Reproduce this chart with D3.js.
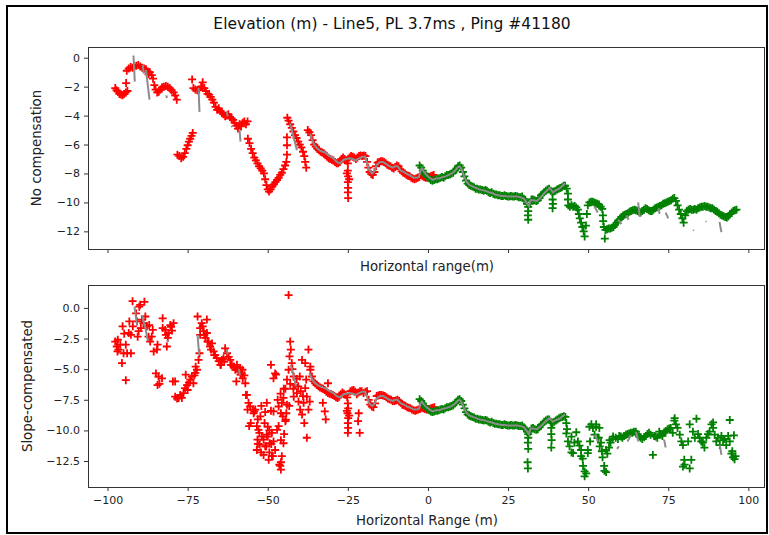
<!DOCTYPE html>
<html><head><meta charset="utf-8">
<script src="https://cdn.jsdelivr.net/npm/d3@7"></script>
<style>body{margin:0;background:#fff}svg{display:block}text{font-family:"DejaVu Sans",sans-serif}</style>
</head><body><div id="chart"></div>
<script>
const title = "Elevation (m) - Line5, PL 3.7ms , Ping #41180";
const xTicks = [-100,-75,-50,-25,0,25,50,75,100];
const topYTicks = [0,-2,-4,-6,-8,-10,-12];
const botYTicks = [0,-2.5,-5,-7.5,-10,-12.5];
const topYLabel = "No compensation", botYLabel = "Slope-compensated";
const topXLabel = "Horizontal range(m)", botXLabel = "Horizontal Range (m)";

// ---- Top panel (no compensation) ----
const topRed = [
[-97.6,-2.1],[-97.2,-2.25],[-96.8,-2.35],[-96.3,-2.5],[-95.8,-2.55],[-95.3,-2.6],[-94.8,-2.5],[-94.3,-2.4],[-93.8,-2.3],[-94.2,-1.75],
[-94.0,-0.9],[-93.4,-0.75],[-92.8,-0.65],[-92.2,-0.7],[-91.6,-0.6],[-91.0,-0.55],[-90.4,-0.5],[-89.8,-0.6],[-89.2,-0.7],[-88.6,-0.75],[-88.0,-0.8],[-87.4,-0.95],[-86.8,-1.0],[-87.2,-1.15],[-86.2,-1.2],[-85.8,-1.45],[-85.4,-1.9],[-85.0,-2.2],[-84.5,-2.4],[-84.0,-2.35],[-83.5,-2.2],[-83.0,-2.05],[-82.4,-2.0],[-81.8,-1.95],[-81.2,-2.0],[-80.6,-2.1],[-80.0,-2.25],[-79.4,-2.4],[-78.9,-2.6],[-78.4,-2.9],
[-78.2,-6.7],[-77.6,-6.8],[-77.0,-6.95],[-76.4,-6.85],[-75.9,-6.6],[-75.4,-6.3],[-75.0,-6.05],[-74.6,-5.8],[-74.2,-5.6],[-73.8,-5.4],[-73.4,-5.2],
[-73.6,-1.5],[-73.2,-2.1],[-72.6,-2.2],[-72.0,-2.25],[-71.4,-2.2],[-70.8,-2.0],[-70.3,-1.7],[-69.8,-2.1],[-69.3,-2.3],[-68.8,-2.5],[-68.3,-2.55],[-67.8,-2.7],[-67.3,-2.9],[-66.8,-3.1],[-66.3,-3.4],[-65.8,-3.6],[-65.3,-3.5],[-64.8,-3.7],[-64.3,-3.8],[-63.8,-3.9],[-63.3,-4.05],[-62.8,-4.0],[-62.3,-3.9],[-61.8,-4.1],[-61.3,-4.2],[-60.8,-4.3],[-60.3,-4.5],[-59.8,-4.7],[-59.3,-4.9],[-58.8,-4.6],[-58.3,-4.75],[-57.8,-4.5],[-57.3,-4.4],[-56.8,-4.6],[-56.3,-4.4],
[-56.2,-5.6],[-55.7,-5.9],[-55.2,-6.3],[-54.7,-6.6],[-54.2,-6.9],[-53.7,-7.1],[-53.2,-7.3],[-52.7,-7.5],[-52.2,-7.65],[-51.7,-7.8],[-51.2,-8.0],[-50.8,-8.4],[-50.4,-8.8],[-50.0,-9.1],[-49.6,-9.25],[-49.1,-9.1],[-48.6,-8.9],[-48.1,-8.75],[-47.6,-8.6],[-47.1,-8.45],[-46.6,-8.3],[-46.1,-8.1],[-45.6,-7.95],[-45.1,-7.7],[-44.6,-7.45],[-44.2,-7.2],
[-44.0,-5.5],[-44.0,-6.05],[-44.0,-6.7],
[-43.9,-4.15],[-43.5,-4.35],[-43.0,-4.6],[-42.5,-4.85],[-42.0,-5.1],[-41.5,-5.35],[-41.0,-5.55],[-40.5,-5.8],[-40.0,-6.0],[-39.5,-6.2],[-39.0,-6.5],[-38.6,-6.8],[-38.3,-7.2],[-38.0,-7.6],
[-37.5,-5.0],[-37.0,-5.15],[-36.5,-5.35],[-36.0,-5.7],[-35.5,-6.0],[-35.0,-6.15],[-34.5,-6.3],[-34.0,-6.4],[-33.5,-6.5],[-33.0,-6.55],[-32.5,-6.6],[-32.0,-6.7],[-31.5,-6.85],[-31.0,-6.95],[-30.5,-7.0],[-30.0,-7.05],[-29.5,-7.1],[-29.0,-7.2],[-28.5,-7.3],[-28.0,-7.3],[-27.5,-7.2],[-27.0,-7.0],[-26.5,-6.9],[-26.0,-7.0],[-25.5,-7.1],[-25.0,-7.3],
[-25.0,-7.8],[-24.9,-8.2],[-25.0,-8.6],[-24.9,-9.0],[-25.0,-9.3],[-24.9,-9.7],[-25.3,-8.0],[-24.6,-8.4],
[-24.5,-6.9],[-24.0,-6.8],[-23.5,-6.85],[-23.0,-6.9],[-22.5,-7.0],[-22.0,-6.9],[-21.5,-6.8],[-21.0,-6.75],[-20.5,-6.8],[-20.0,-6.75],[-19.5,-6.8],[-19.0,-7.2],[-18.6,-7.6],[-18.2,-7.9],[-17.7,-8.05],[-17.2,-8.1],[-16.7,-7.9],[-16.2,-7.5],[-15.7,-7.25],[-15.2,-7.2],[-14.7,-7.15],[-14.2,-7.15],[-13.7,-7.2],[-13.2,-7.3],[-12.7,-7.4],[-12.2,-7.45],[-11.7,-7.5],[-11.2,-7.6],[-10.7,-7.65],[-10.2,-7.55],[-9.7,-7.45],[-9.2,-7.5],[-8.7,-7.7],[-8.2,-7.85],[-7.7,-7.95],[-7.2,-8.0],[-6.7,-8.1],[-6.2,-8.15],[-5.7,-8.2],[-5.2,-8.3],[-4.7,-8.35],[-4.2,-8.4],[-3.7,-8.35],[-3.2,-8.3],[-2.7,-8.25],[-2.2,-8.1],[-1.7,-8.2],[-1.2,-8.25],[-0.7,-8.3],[-0.2,-8.3],[0.3,-8.25],[0.8,-8.2],[1.3,-8.15],[1.8,-8.1]
];
const topGreen = [
[-2.6,-7.45],[-2.1,-7.6],[-1.6,-7.8],[-1.1,-8.0],[-0.6,-8.15],[-0.1,-8.25],[0.4,-8.35],[0.9,-8.45],[1.4,-8.5],[1.9,-8.45],[2.4,-8.4],[2.9,-8.4],[3.4,-8.35],[3.9,-8.3],[4.4,-8.25],[4.9,-8.3],[5.4,-8.2],[5.9,-8.1],[6.4,-8.1],[6.9,-8.05],[7.4,-8.0],[7.9,-7.95],[8.4,-7.8],[8.9,-7.65],[9.4,-7.5],[9.9,-7.45],[10.4,-7.6],[10.9,-7.9],[11.4,-8.2],[11.9,-8.5],[12.4,-8.7],[12.9,-8.8],[13.4,-8.85],[13.9,-8.9],[14.4,-8.95],[14.9,-9.05],[15.4,-9.05],[15.9,-9.1],[16.4,-9.1],[16.9,-9.15],[17.4,-9.2],[17.9,-9.15],[18.4,-9.2],[18.9,-9.3],[19.4,-9.35],[19.9,-9.3],[20.4,-9.4],[20.9,-9.45],[21.4,-9.45],[21.9,-9.5],[22.4,-9.5],[22.9,-9.55],[23.4,-9.55],[23.9,-9.5],[24.4,-9.55],[24.9,-9.6],[25.4,-9.6],[25.9,-9.55],[26.4,-9.6],[26.9,-9.6],[27.4,-9.55],[27.9,-9.6],[28.4,-9.65],[28.9,-9.65],[29.4,-9.6],[29.9,-9.75],[30.4,-9.9],[30.9,-10.1],[31.3,-10.3],
[31.3,-10.6],[31.2,-10.9],[31.3,-11.2],
[31.8,-10.1],[32.3,-9.8],[32.8,-9.8],[33.3,-9.85],[33.8,-9.9],[34.3,-9.85],[34.8,-9.7],[35.3,-9.5],[35.8,-9.4],[36.3,-9.3],[36.8,-9.2],[37.3,-9.1],[37.8,-9.05],[38.3,-9.2],[38.8,-9.3],
[38.9,-9.8],[39.0,-10.1],[38.9,-10.4],
[39.3,-9.25],[39.8,-9.2],[40.3,-9.1],[40.8,-9.05],[41.3,-9.0],[41.8,-8.95],[42.3,-8.85],[42.8,-8.85],[43.3,-9.05],[43.7,-9.4],[43.7,-9.8],[43.8,-10.2],
[44.3,-10.3],[44.8,-10.2],[45.3,-10.3],[45.8,-10.25],[46.3,-10.35],[46.8,-10.5],[47.1,-10.8],[47.4,-11.1],[47.8,-11.4],[48.2,-11.7],[48.6,-12.0],[48.9,-12.35],[49.3,-11.6],[49.6,-10.8],[49.9,-10.2],[50.4,-10.0],[50.9,-9.95],[51.4,-9.95],[51.9,-10.0],[52.4,-10.05],[52.9,-10.1],[53.4,-10.15],[53.9,-10.3],[54.4,-10.45],[54.6,-10.9],[54.7,-11.3],[54.9,-11.7],[55.2,-12.5],[55.4,-11.9],[55.9,-11.85],[56.4,-11.8],[56.9,-11.8],[57.4,-11.75],[57.9,-11.7],[58.4,-11.55],[58.9,-11.4],[59.4,-11.25],[59.9,-11.15],[60.4,-11.0],[60.9,-10.9],[61.4,-10.85],[61.9,-10.8],[62.4,-10.75],[62.9,-10.65],[63.4,-10.6],[63.9,-10.55],[64.4,-10.5],[64.9,-10.55],[65.4,-10.6],[65.9,-10.65],[66.4,-10.7],[66.9,-10.6],[67.4,-10.5],[67.9,-10.4],[68.4,-10.45],[68.9,-10.55],[69.4,-10.6],[69.9,-10.6],[70.4,-10.5],[70.9,-10.4],[71.4,-10.35],[71.9,-10.3],[72.4,-10.25],[72.9,-10.2],[73.4,-10.1],[73.9,-10.05],[74.4,-10.0],[74.9,-9.95],[75.4,-9.9],[75.9,-9.85],[76.4,-9.75],[76.9,-9.7],[77.4,-9.9],[77.9,-10.2],[78.4,-10.5],[78.9,-10.8],[79.4,-11.1],[79.8,-11.4],[80.3,-10.9],[80.8,-10.6],[81.3,-10.5],[81.8,-10.45],[82.3,-10.5],[82.8,-10.5],[83.3,-10.45],[83.8,-10.5],[84.3,-10.4],[84.8,-10.35],[85.3,-10.3],[85.8,-10.3],[86.3,-10.25],[86.8,-10.3],[87.3,-10.3],[87.8,-10.35],[88.3,-10.4],[88.8,-10.4],[89.3,-10.5],[89.8,-10.6],[90.3,-10.65],[90.8,-10.75],[91.3,-10.85],[91.8,-10.9],[92.3,-10.95],[92.8,-11.0],[93.3,-11.05],[93.8,-10.95],[94.3,-10.8],[94.8,-10.7],[95.3,-10.6],[95.8,-10.55],[96.3,-10.5]
];
const topGray = [
[-91.9,0.15],[-91.5,-1.65],[null,null],
[-89.0,-0.5],[-88.7,-1.1],[null,null],
[-88.0,-0.85],[-86.9,-2.9],[null,null],
[-81.6,-2.6],[-81.5,-2.8],[null,null],
[-71.6,-2.1],[-71.3,-3.75],[null,null],
[-62.8,-3.75],[-62.5,-4.05],[null,null],
[-61.3,-4.7],[-61.1,-4.8],[null,null],
[-58.8,-5.0],[-58.5,-5.8],[null,null],
[-43.0,-4.55],[-40.9,-6.4],[null,null],
[-36.7,-5.25],[-36.2,-5.7],[-35.5,-6.0],[-34.7,-6.25],[-33.5,-6.45],[-32.1,-6.55],[-31,-6.75],[-29.5,-6.95],[-28.5,-7.2],[-27.4,-7.3],[-26.3,-7.05],[-25.5,-7.0],[-24.5,-6.95],[-23.5,-7.0],[-22.5,-7.1],[-21.5,-6.95],[-20.5,-6.85],[-19.6,-6.85],[-19,-7.3],[-18.3,-7.8],[-17.4,-8.0],[-16.6,-7.8],[-16,-7.4],[-15,-7.2],[-14,-7.2],[-13,-7.35],[-12,-7.5],[-11,-7.6],[-10.2,-7.5],[-9.5,-7.5],[-8.5,-7.8],[-7.5,-7.9],[-6.5,-8.05],[-5.5,-8.15],[-4.5,-8.3],[-3.5,-8.3],[-2.8,-8.25],[-2.3,-7.8],[-1.9,-7.65],[-1.2,-7.9],[-0.5,-8.1],[0.5,-8.3],[1.5,-8.45],[2.5,-8.35],[3.5,-8.35],[4.5,-8.25],[5.5,-8.2],[6.5,-8.1],[7.5,-8.0],[8.5,-7.8],[9.2,-7.6],[9.8,-7.5],[10.4,-7.65],[11.2,-8.15],[12,-8.55],[13,-8.8],[14,-8.9],[15,-9.0],[16,-9.1],[17,-9.15],[18,-9.2],[19,-9.3],[20,-9.35],[21,-9.45],[22,-9.5],[23,-9.55],[24,-9.55],[25,-9.6],[26,-9.6],[27,-9.6],[28,-9.6],[29,-9.65],[30,-9.75],[31,-10.1],[31.5,-10.25],[32,-9.85],[33,-9.85],[34,-9.9],[35,-9.7],[36,-9.45],[37,-9.2],[38,-9.0],[39,-9.3],[40,-9.15],[41,-9.05],[42,-8.85],[42.8,-8.7],[null,null],
[52.0,-10.3],[53.0,-10.7],[null,null],
[59.4,-11.2],[60.4,-11.5],[null,null],
[62.0,-10.9],[62.6,-11.2],[null,null],
[65.6,-10.0],[66.1,-11.0],[null,null],
[72.0,-10.4],[72.3,-10.8],[null,null],
[74.2,-10.7],[75.0,-11.1],[null,null],
[82.8,-11.9],[83.0,-11.95],[null,null],
[86.7,-11.3],[86.9,-11.35],[null,null],
[91.0,-11.35],[91.6,-12.05]
];

// ---- Bottom panel (slope-compensated) ----
const botRed = [
[-97.6,-2.75],[-97.1,-3.15],[-96.9,-3.55],[-96.6,-3.4],[-96.0,-3.0],[-96.8,-2.6],[-95.5,-4.5],[-95.0,-3.7],[-94.3,-3.0],[-93.9,-3.7],[-94.3,-5.9],[-94.8,-2.1],[-95.3,-1.5],[-93.4,-2.05],[-92.7,-2.2],[-92.7,-3.7],[-93.2,-1.1],[-92.2,0.55],[-92.1,-1.5],[-91.1,-0.45],[-90.8,-1.1],[-90.3,-1.9],[-90.1,0.1],[-89.8,0.25],[-88.5,0.5],[-89.3,-0.95],[-89.6,-1.65],[-90.6,-2.35],[-88.2,-0.7],[-88.8,-1.25],[-87.7,-1.5],[-87.0,-1.4],[-87.2,-2.35],[-86.7,-2.75],[-86.2,-2.35],[-85.9,-1.8],[-85.6,-3.55],[-84.6,-3.4],[-84.4,-3.0],[-84.9,-5.35],[-84.1,-5.6],[-84.4,-6.3],[-83.8,-6.2],[-83.0,-5.75],[-82.8,-0.85],[-82.8,-1.65],[-82.0,-1.8],[-81.8,-2.2],[-81.5,-3.15],[-81.2,-2.45],[-81.0,-2.05],[-80.4,-1.4],[-80.2,-1.55],[-79.9,-1.85],[-79.4,-1.25],[-79.6,-6.0],
[-78.9,-6.0],[-78.9,-7.25],[-78.3,-7.4],[-77.8,-7.35],[-77.3,-7.1],[-76.8,-7.35],[-76.3,-6.95],[-75.8,-6.55],[-75.6,-5.45],[-75.2,-6.3],[-75.0,-6.7],[-74.6,-6.1],[-74.2,-5.85],[-73.7,-5.6],[-73.2,-6.15],[-72.9,-5.5],[-72.6,-5.3],[-72.1,-5.05],[-72.5,-4.8],[-71.6,-4.25],[-71.3,-3.7],[-71.9,-0.7],[-70.6,-1.25],[-69.0,-0.95],[-71.1,-1.65],[-71.1,-2.2],[-70.0,-1.9],[-70.3,-1.5],[-69.8,-2.2],[-69.5,-2.45],[-69.0,-2.05],[-68.8,-2.75],[-68.5,-2.75],[-68.0,-3.15],[-67.7,-3.4],[-67.4,-2.9],[-66.9,-3.55],[-66.7,-3.85],[-66.4,-3.85],[-65.9,-4.1],[-65.3,-4.35],[-64.8,-4.65],[-64.6,-4.65],[-64.3,-4.25],[-63.8,-4.1],[-63.6,-4.4],[-63.3,-3.3],[-62.7,-3.7],[-62.2,-4.0],[-61.7,-4.25],[-61.5,-4.65],[-61.2,-4.65],[-60.7,-4.8],[-60.5,-4.8],[-60.1,-5.05],[-59.6,-4.65],[-59.1,-5.2],[-59.0,-5.05],[-58.6,-4.9],[-58.5,-5.45],[-58.1,-5.35],[-57.9,-5.05],[-57.8,-5.75],[-57.3,-5.5],[-57.0,-6.15],[-59.8,-6.0],[-56.8,-7.1],[-56.5,-7.1],
[-56.0,-7.75],[-56.3,-8.3],[-55.8,-9.65],[-55.5,-8.05],[-54.6,-8.3],[-54.2,-8.45],[-55.3,-9.4],[-54.4,-8.6],[-53.9,-8.3],[-53.4,-9.65],[-53.1,-9.1],[-52.9,-9.95],[-52.6,-10.2],[-52.3,-8.85],[-53.2,-10.75],[-53.1,-11.1],[-52.5,-11.15],[-52.1,-11.8],[-53.4,-11.6],[-51.8,-10.5],[-51.3,-10.75],[-50.8,-11.3],[-50.5,-11.3],[-51.3,-12.0],[-50.3,-10.35],[-50.0,-10.5],[-49.4,-11.05],[-49.5,-11.8],[-48.9,-11.1],[-48.7,-10.2],[-48.2,-10.9],[-48.4,-12.1],[-47.7,-11.6],[-48.7,-12.1],[-49.7,-12.4],[-48.2,-8.45],[-49.0,-8.4],[-47.1,-9.95],[-46.6,-9.65],[-46.4,-12.8],[-46.1,-12.9],[-45.9,-13.2],[-45.9,-12.6],[-45.6,-12.1],[-45.9,-10.8],[-45.1,-11.05],[-44.9,-10.3],[-44.5,-9.25],[-44.4,-9.13],[-45.3,-8.85],[-45.9,-8.6],[-44.2,-8.6],[-44.0,-7.9],[-43.3,-8.0],[-45.1,-7.35],[-45.6,-7.75],[-46.6,-8.05],[-46.9,-7.5],[-48.2,-5.75],[-47.4,-5.45],[-49.0,-4.65],[-47.7,-5.35],[-50.3,-7.75],[-50.8,-8.5],[-52.0,-8.0],[-49.5,-10.0],[-50.0,-9.7],[-51.0,-9.4],[-45.0,-6.6],[-46.0,-7.0],
[-44.0,-5.85],[-43.5,-5.05],[-43.0,-2.75],[-42.8,-3.4],[-43.2,-3.95],[-42.5,-4.5],[-41.9,-5.6],[-41.4,-6.3],[-41.9,-7.25],[-40.9,-6.95],[-40.4,-7.65],[-39.9,-8.3],[-39.3,-8.7],[-38.8,-7.75],[-38.6,-9.4],[-39.3,-4.25],[-38.3,-4.5],[-38.0,-5.85],[-37.8,-10.6],[-37.3,-3.4],[-36.7,-5.05],[-38.3,-6.55],[-37.8,-7.25],[-37.3,-8.3],[-36.9,-7.65],[-43.5,1.05],[-42.3,-5.0],[-41.0,-5.8],[-40.5,-6.4],[-39.7,-6.8],[-39.0,-7.2],[-40.0,-5.6],[-42.0,-6.6],[-43.0,-6.2],[-44.5,-6.6],
[-36.7,-4.8],[-36.2,-5.6],[-35.7,-6.0],[-35.2,-6.15],[-34.7,-6.3],[-34.2,-6.4],[-33.7,-6.5],[-33.2,-6.55],[-32.8,-7.75],[-32.2,-8.45],[-31.9,-9.1],[-31.2,-6.15],[-32.7,-6.6],[-32.2,-6.7],[-31.7,-6.85],[-31.2,-6.95],[-30.7,-7.0],[-30.2,-7.05],[-29.7,-7.1],[-29.2,-7.2],[-28.7,-7.3],[-28.2,-7.35],[-27.7,-7.25],[-27.2,-7.05],[-26.7,-6.9],[-26.2,-7.0],[-25.7,-7.1],[-25.2,-7.3],
[-25.0,-7.8],[-24.9,-8.2],[-25.1,-8.6],[-24.9,-9.0],[-25.0,-9.4],[-24.9,-9.8],[-25.0,-10.2],[-25.3,-8.4],[-24.6,-8.8],
[-24.2,-6.8],[-23.7,-6.75],[-23.2,-6.7],[-22.7,-6.85],[-22.2,-7.05],[-21.8,-9.25],[-21.3,-10.2],[-21.6,-8.6],[-21.7,-6.9],[-21.2,-6.8],[-20.7,-6.8],[-20.1,-6.95],[-19.5,-6.85],[-19.0,-6.8],[-18.5,-7.5],[-18.0,-7.9],[-17.5,-8.05],[-17.0,-8.1],[-16.5,-7.8],[-16.0,-7.2],[-15.5,-7.15],[-15.0,-7.1],[-14.5,-7.1],[-14.0,-7.15],[-13.5,-7.2],[-13.0,-7.3],[-12.5,-7.4],[-12.0,-7.45],[-11.5,-7.5],[-11.0,-7.6],[-10.5,-7.6],[-10.0,-7.55],[-9.5,-7.5],[-9.0,-7.6],[-8.5,-7.75],[-8.0,-7.9],[-7.5,-7.95],[-7.0,-8.0],[-6.5,-8.1],[-6.0,-8.15],[-5.5,-8.2],[-5.0,-8.3],[-4.5,-8.35],[-4.0,-8.4],[-3.5,-8.35],[-3.0,-8.3],[-2.5,-8.25],[-2.0,-8.15],[-1.5,-8.2],[-1.0,-8.25],[-0.5,-8.3],[0.0,-8.3],[0.5,-8.25],[1.0,-8.2],[1.5,-8.15],[2.0,-8.1]
];
const botGreen = [
[-2.6,-7.45],[-2.1,-7.6],[-1.6,-7.8],[-1.1,-8.0],[-0.6,-8.15],[-0.1,-8.25],[0.4,-8.35],[0.9,-8.45],[1.4,-8.5],[1.9,-8.45],[2.4,-8.4],[2.9,-8.4],[3.4,-8.35],[3.9,-8.3],[4.4,-8.25],[4.9,-8.3],[5.4,-8.2],[5.9,-8.1],[6.4,-8.1],[6.9,-8.05],[7.4,-8.0],[7.9,-7.95],[8.4,-7.8],[8.9,-7.65],[9.4,-7.5],[9.9,-7.45],[10.4,-7.6],[10.9,-7.9],[11.4,-8.2],[11.9,-8.5],[12.4,-8.7],[12.9,-8.8],[13.4,-8.85],[13.9,-8.9],[14.4,-8.95],[14.9,-9.05],[15.4,-9.05],[15.9,-9.1],[16.4,-9.1],[16.9,-9.15],[17.4,-9.2],[17.9,-9.15],[18.4,-9.2],[18.9,-9.3],[19.4,-9.35],[19.9,-9.3],[20.4,-9.4],[20.9,-9.45],[21.4,-9.45],[21.9,-9.5],[22.4,-9.5],[22.9,-9.55],[23.4,-9.55],[23.9,-9.5],[24.4,-9.55],[24.9,-9.6],[25.4,-9.6],[25.9,-9.55],[26.4,-9.6],[26.9,-9.6],[27.4,-9.55],[27.9,-9.6],[28.4,-9.65],[28.9,-9.65],[29.4,-9.6],[29.9,-9.75],[30.4,-9.9],[30.9,-10.1],
[31.3,-10.3],[31.3,-10.6],[31.2,-11.0],[31.3,-11.5],[31.1,-12.6],[31.2,-13.1],
[31.8,-10.1],[32.3,-9.85],[32.8,-9.8],[33.3,-9.9],[33.8,-9.95],[34.3,-9.9],[34.8,-9.75],[35.3,-9.55],[35.8,-9.45],[36.3,-9.3],[36.8,-9.2],[37.3,-9.1],[37.8,-9.1],[38.3,-9.3],[38.5,-9.8],[38.5,-10.3],[38.6,-10.8],[38.5,-11.4],[38.9,-9.4],[39.4,-9.3],[39.9,-9.2],[40.4,-9.1],[40.9,-9.0],[41.4,-8.95],[41.9,-8.9],[42.4,-8.85],[42.9,-8.9],[43.2,-9.4],[43.4,-9.9],[43.2,-10.25],[43.7,-10.9],[44.2,-11.3],[44.8,-11.8],[45.3,-11.85],[44.8,-10.5],[45.7,-11.0],[46.3,-10.15],[46.8,-10.9],[47.3,-11.25],[47.8,-11.6],[47.8,-12.1],[48.3,-12.3],[48.4,-12.9],[48.9,-13.35],[48.9,-13.75],[49.4,-13.5],[49.9,-11.6],[49.9,-11.85],[50.4,-9.7],[50.6,-10.9],[51.0,-9.5],[51.5,-9.8],[52.0,-10.35],[52.5,-9.5],[52.5,-9.7],[53.0,-10.6],[53.3,-10.6],[53.5,-9.8],[54.0,-11.0],[53.6,-11.3],[54.3,-11.7],[54.5,-12.2],[55.0,-12.9],[55.1,-13.3],[55.6,-13.4],[55.6,-11.6],[56.0,-11.9],[56.5,-11.4],[56.7,-10.8],[57.0,-11.0],[57.6,-10.7],[57.8,-10.5],[58.6,-10.6],[59.3,-10.7],[59.7,-10.45],[60.2,-10.5],[60.7,-10.6],[61.2,-10.45],[61.8,-10.35],[62.3,-10.3],[62.8,-10.25],[63.3,-10.2],[63.8,-10.2],[64.3,-10.1],[64.9,-10.1],[65.4,-10.3],[65.9,-10.5],[66.4,-10.6],[66.9,-10.7],[67.5,-10.55],[68.0,-10.45],[68.5,-10.3],[69.0,-10.2],[69.5,-10.35],[70.2,-12.0],[70.6,-10.45],[71.1,-10.5],[71.6,-10.6],[72.2,-10.1],[72.7,-10.3],[73.2,-10.45],[73.7,-10.2],[74.2,-10.05],[74.8,-9.9],[75.3,-9.85],[75.8,-9.8],[76.4,-10.2],[76.9,-9.2],[77.4,-9.5],[77.0,-9.0],[77.9,-9.8],[78.6,-10.35],[79.1,-10.9],[79.6,-11.2],[79.6,-12.95],[80.1,-12.8],[80.0,-12.4],[81.7,-13.1],[81.2,-10.9],[81.7,-9.5],[82.2,-12.4],[82.7,-10.1],[83.3,-10.6],[83.8,-9.05],[84.3,-10.3],[84.8,-10.6],[85.3,-10.9],[85.8,-11.0],[86.3,-11.4],[86.9,-10.6],[87.4,-10.3],[87.9,-10.1],[88.5,-9.5],[89.0,-9.8],[89.0,-9.35],[89.5,-10.35],[90.0,-10.9],[90.5,-10.6],[91.1,-11.2],[91.6,-10.45],[92.1,-10.8],[92.6,-10.7],[93.1,-11.2],[93.7,-10.45],[94.2,-10.9],[94.2,-9.15],[94.7,-11.9],[95.0,-11.7],[95.2,-12.2],[95.7,-12.35],[95.5,-10.4],[96.0,-12.1]
];
const botGray = [
[-91.6,0.1],[-90.8,-1.4],[null,null],
[-89.2,-0.6],[-88.8,-1.1],[-88.2,-1.6],[-87.4,-2.7],[null,null],
[-81.3,-2.6],[-81.1,-2.8],[null,null],
[-71.9,-2.2],[-71.4,-3.85],[null,null],
[-62.8,-3.4],[-62.5,-3.8],[null,null],
[-59.0,-5.0],[-58.7,-5.5],[null,null],
[-42.8,-4.65],[-41.2,-6.4],[null,null],
[-37.0,-5.3],[-36.2,-5.8],[-35.4,-6.1],[-34.4,-6.3],[-33.3,-6.45],[-32.1,-6.55],[-31,-6.75],[-29.5,-6.95],[-28.5,-7.2],[-27.4,-7.3],[-26.3,-7.05],[-25.5,-7.0],[-24.5,-6.95],[-23.5,-7.0],[-22.5,-7.1],[-21.5,-6.95],[-20.5,-6.85],[-19.6,-6.85],[-19,-7.3],[-18.3,-7.8],[-17.4,-8.0],[-16.6,-7.8],[-16,-7.4],[-15,-7.2],[-14,-7.2],[-13,-7.35],[-12,-7.5],[-11,-7.6],[-10.2,-7.5],[-9.5,-7.5],[-8.5,-7.8],[-7.5,-7.9],[-6.5,-8.05],[-5.5,-8.15],[-4.5,-8.3],[-3.5,-8.3],[-2.8,-8.25],[-2.3,-7.8],[-1.9,-7.65],[-1.2,-7.9],[-0.5,-8.1],[0.5,-8.3],[1.5,-8.45],[2.5,-8.35],[3.5,-8.35],[4.5,-8.25],[5.5,-8.2],[6.5,-8.1],[7.5,-8.0],[8.5,-7.8],[9.2,-7.6],[9.8,-7.5],[10.4,-7.65],[11.2,-8.15],[12,-8.55],[13,-8.8],[14,-8.9],[15,-9.0],[16,-9.1],[17,-9.15],[18,-9.2],[19,-9.3],[20,-9.35],[21,-9.45],[22,-9.5],[23,-9.55],[24,-9.55],[25,-9.6],[26,-9.6],[27,-9.6],[28,-9.6],[29,-9.65],[30,-9.75],[31,-10.1],[31.5,-10.3],[32,-9.85],[33,-9.85],[34,-9.9],[35,-9.7],[36,-9.45],[37,-9.2],[38,-9.0],[39,-9.3],[40,-9.15],[41,-9.05],[42,-8.85],[42.8,-8.7],[null,null],
[52.0,-10.35],[53.1,-10.9],[null,null],
[59.0,-11.5],[59.6,-11.3],[null,null],
[62.3,-10.9],[63.3,-10.4],[null,null],
[64.9,-10.1],[65.7,-10.9],[null,null],
[73.7,-10.75],[74.2,-11.4],[null,null],
[91.1,-11.2],[91.6,-12.0]
];

// ---- drawing ----
const W = 769, H = 535;
const svg = d3.select("#chart").append("svg").attr("width", W).attr("height", H);
svg.append("rect").attr("width", W).attr("height", H).attr("fill", "#fff");
svg.append("rect").attr("x", 7).attr("y", 6).attr("width", 760).attr("height", 527)
  .attr("fill", "none").attr("stroke", "#000").attr("stroke-width", 2);

svg.append("text").attr("x", 392).attr("y", 24).attr("text-anchor", "middle")
  .attr("dominant-baseline", "central").attr("font-size", 15.5).attr("fill", "#111").text(title);

const x = d3.scaleLinear().domain([-106.1, 105.2]).range([88, 765]);
const plus = "M-4,0H4M0,-4V4";

function panel(top, bottom, ydom, yTicks, yFmt, showX, red, green, gray, ylab, xlab, xlabY, ylabX) {
  const y = d3.scaleLinear().domain(ydom).range([bottom, top]);
  const g = svg.append("g");
  const cid = "clip" + Math.round(top);
  g.append("clipPath").attr("id", cid).append("rect")
    .attr("x", 88).attr("y", top).attr("width", 677).attr("height", bottom - top);
  const pg = g.append("g").attr("clip-path", `url(#${cid})`);
  pg.append("g").selectAll("path").data(red).join("path")
    .attr("d", plus).attr("transform", d => `translate(${x(d[0])},${y(d[1])})`)
    .attr("stroke", "#ff0000").attr("stroke-width", 1.8).attr("fill", "none");
  pg.append("g").selectAll("path").data(green).join("path")
    .attr("d", plus).attr("transform", d => `translate(${x(d[0])},${y(d[1])})`)
    .attr("stroke", "#008000").attr("stroke-width", 1.8).attr("fill", "none");
  const line = d3.line().defined(d => d[0] !== null).x(d => x(d[0])).y(d => y(d[1]));
  pg.append("path").datum(gray).attr("d", line).attr("fill", "none")
    .attr("stroke", "#8c8c8c").attr("stroke-width", 2);

  const yAxis = g.append("g").attr("transform", "translate(88,0)")
    .call(d3.axisLeft(y).tickValues(yTicks).tickSize(4).tickPadding(4).tickFormat(yFmt));
  const xAxis = g.append("g").attr("transform", `translate(0,${bottom})`)
    .call(d3.axisBottom(x).tickValues(xTicks).tickSize(4).tickPadding(5)
      .tickFormat(showX ? d3.format("d") : () => ""));
  [yAxis, xAxis].forEach(a => {
    a.select(".domain").remove();
    a.selectAll("line").attr("stroke", "#333");
    a.selectAll("text").attr("font-size", 11).attr("fill", "#222")
      .attr("font-family", "DejaVu Sans");
  });
  g.append("rect").attr("x", 88.5).attr("y", top + 0.5).attr("width", 676).attr("height", bottom - top)
    .attr("fill", "none").attr("stroke", "#333").attr("stroke-width", 1);
  g.append("text").attr("x", 427).attr("y", xlabY).attr("text-anchor", "middle")
    .attr("dominant-baseline", "central").attr("font-size", 13.3).attr("fill", "#222").text(xlab);
  g.append("text").attr("transform", `translate(${ylabX},${(top + bottom) / 2}) rotate(-90)`)
    .attr("text-anchor", "middle").attr("dominant-baseline", "central")
    .attr("font-size", 13.3).attr("fill", "#222").text(ylab);
}

panel(47, 249, [-13.22, 0.74], topYTicks, d3.format("d"), false, topRed, topGreen, topGray,
  topYLabel, topXLabel, 266, 36);
panel(285, 487, [-14.62, 1.87], botYTicks, d3.format(".1f"), true, botRed, botGreen, botGray,
  botYLabel, botXLabel, 520, 27);
</script></body></html>
